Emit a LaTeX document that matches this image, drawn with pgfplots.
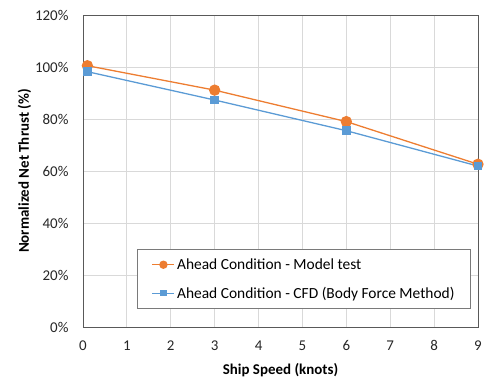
\documentclass[border=0pt]{standalone}
\usepackage{pgfplots}
\pgfplotsset{compat=1.18}
\usepackage{fontspec}
\setmainfont{Carlito}
\definecolor{ora}{HTML}{ED7D31}
\definecolor{blu}{HTML}{5B9BD5}
\definecolor{gridc}{HTML}{D9D9D9}
\definecolor{axc}{HTML}{595959}
\begin{document}
\begin{tikzpicture}
\useasboundingbox (-83bp,-54bp) rectangle (411bp,327bp);
\begin{axis}[
  at={(0,0)}, anchor=south west,
  scale only axis, width=395bp, height=312bp,
  xmin=0, xmax=9, ymin=0, ymax=120,
  xtick={0,1,...,9}, ytick={0,20,...,120},
  yticklabel={\pgfmathprintnumber{\tick}\%},
  /pgf/number format/assume math mode=true,
  grid=major,
  major grid style={gridc, line width=0.8pt},
  axis line style={axc, line width=0.8pt},
  tick style={draw=none},
  ticklabel style={font=\fontsize{15}{17}\selectfont, text=black!85},
  xticklabel style={yshift=-10bp},
  yticklabel style={xshift=-11bp},
  xlabel={\textbf{Ship Speed (knots)}},
  ylabel={\textbf{Normalized Net Thrust (\%)}},
  label style={font=\fontsize{15}{17}\selectfont},
  xlabel style={yshift=-6bp},
  ylabel style={yshift=-3bp},
  legend style={at={(0.982,0.058)}, anchor=south east, draw=axc!80, line width=0.6pt,
    font=\fontsize{15.5}{17}\selectfont, row sep=12bp, inner xsep=14bp, inner ysep=7bp, fill=white},
  legend cell align=left,
  legend image code/.code={\draw[#1, mark repeat=2, mark phase=2, mark options={scale=0.7}] plot coordinates {(0bp,0bp) (11bp,0bp) (22bp,0bp)};},
]
\addplot[ora, line width=1.3pt, mark=*, mark size=5bp, mark options={solid, fill=ora, draw=ora}]
  coordinates {(0.1,100.5) (3,91.1) (6,79.0) (9,62.6)};
\addlegendentry{Ahead Condition - Model test}
\addplot[blu, line width=1.3pt, mark=square*, mark size=3.6bp, mark options={solid, fill=blu, draw=blu}]
  coordinates {(0.1,98.2) (3,87.3) (6,75.5) (9,61.9)};
\addlegendentry{Ahead Condition - CFD (Body Force Method)}
\end{axis}
\end{tikzpicture}
\end{document}
